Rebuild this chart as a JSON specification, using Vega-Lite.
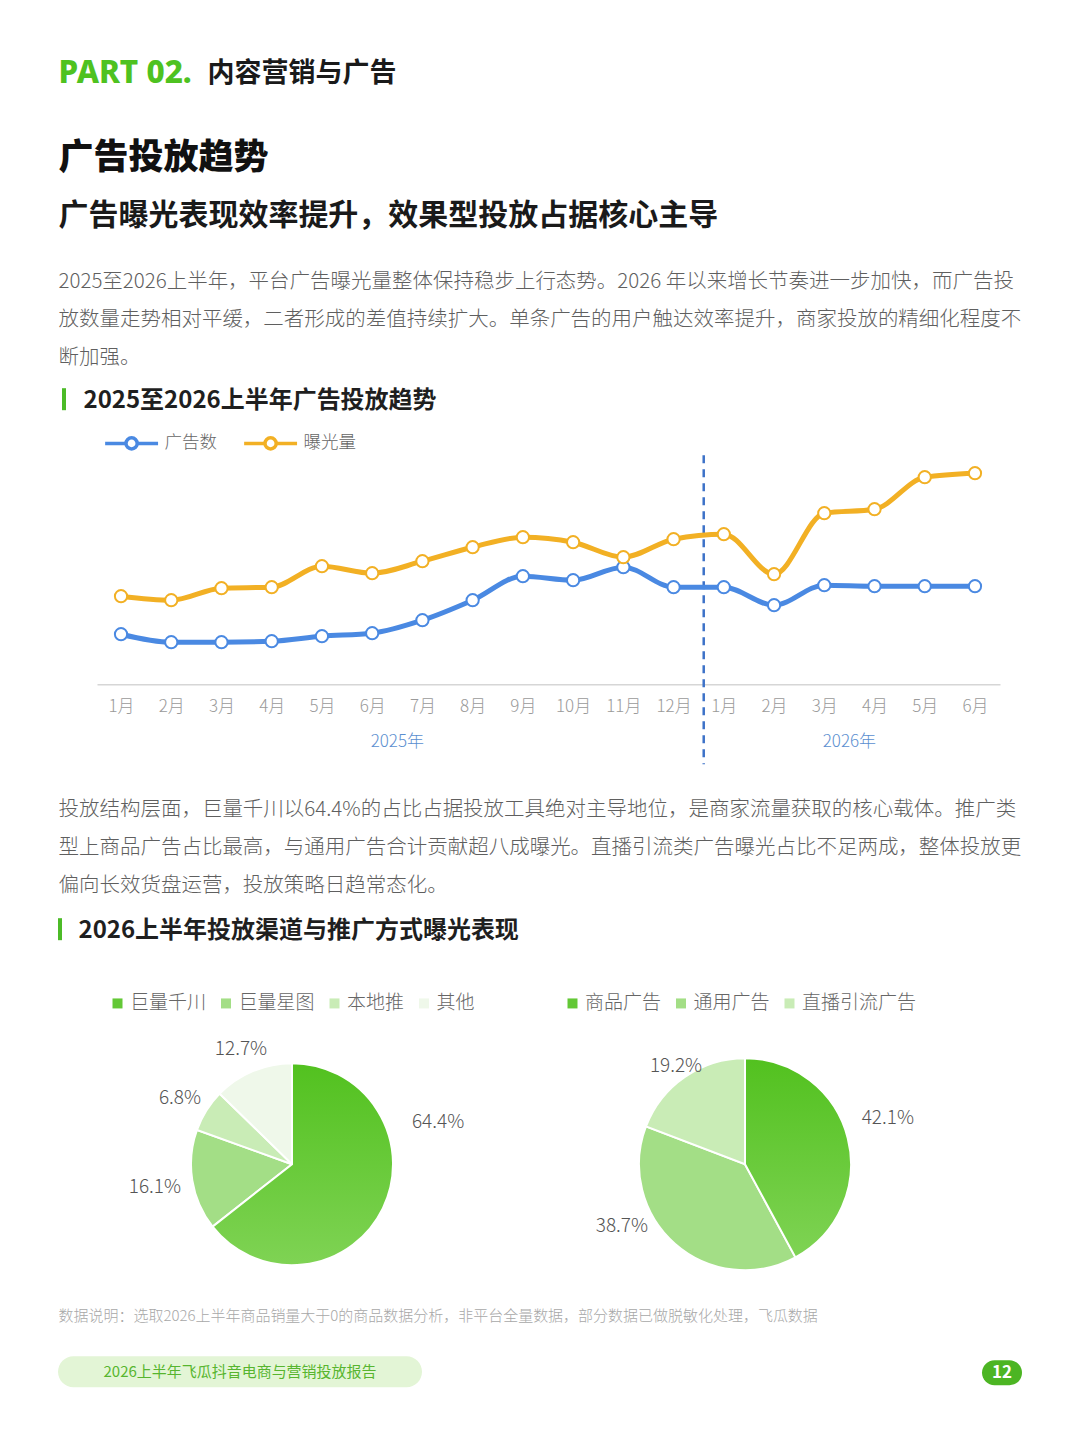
{
  "$schema": "https://vega.github.io/schema/vega-lite/v6.json",
  "description": "广告投放趋势 page: line chart of ad count and exposure, plus two share pies",
  "background": "white",
  "padding": {"left": 58, "top": 57.2, "right": 58, "bottom": 40},
  "spacing": 0,
  "config": {
    "view": {"stroke": null},
    "font": "Noto Sans CJK SC",
    "concat": {"spacing": 0}
  },
  "resolve": {"scale": {"color": "independent", "theta": "independent"}, "legend": {"color": "independent"}},
  "vconcat": [
    {
      "hconcat": [
        {
          "width": 1, "height": 1,
          "data": {"values": [{"t": "PART 02."}]},
          "mark": {"type": "text", "align": "left", "baseline": "middle", "font": "Noto Sans", "fontSize": 31.5, "fontWeight": 800, "color": "#4ec220"},
          "encoding": {"text": {"field": "t", "type": "nominal"}}
        },
        {
          "width": 1, "height": 1,
          "data": {"values": [{"t": "内容营销与广告"}]},
          "mark": {"type": "text", "align": "left", "baseline": "middle", "fontSize": 27, "fontWeight": 700, "color": "#1a1a1a"},
          "encoding": {"text": {"field": "t", "type": "nominal"}}
        }
      ],
      "spacing": 15
    },
    {"width": 1, "height": 50.5, "data": {"values": [{}]}, "mark": {"type": "point", "opacity": 0, "size": 1}},
    {
      "width": 1, "height": 1,
      "data": {"values": [{"t": "广告投放趋势"}]},
      "mark": {"type": "text", "align": "left", "baseline": "middle", "fontSize": 35, "fontWeight": 900, "color": "#111111"},
      "encoding": {"text": {"field": "t", "type": "nominal"}}
    },
    {"width": 1, "height": 24, "data": {"values": [{}]}, "mark": {"type": "point", "opacity": 0, "size": 1}},
    {
      "width": 1, "height": 1,
      "data": {"values": [{"t": "广告曝光表现效率提升，效果型投放占据核心主导"}]},
      "mark": {"type": "text", "align": "left", "baseline": "middle", "fontSize": 30, "fontWeight": 700, "color": "#1a1a1a"},
      "encoding": {"text": {"field": "t", "type": "nominal"}}
    },
    {"width": 1, "height": 40, "data": {"values": [{}]}, "mark": {"type": "point", "opacity": 0, "size": 1}},
    {
      "width": 1, "height": 1,
      "data": {"values": [{"t": "2025至2026上半年，平台广告曝光量整体保持稳步上行态势。2026 年以来增长节奏进一步加快，而广告投\n放数量走势相对平缓，二者形成的差值持续扩大。单条广告的用户触达效率提升，商家投放的精细化程度不\n断加强。"}]},
      "mark": {"type": "text", "align": "left", "baseline": "top", "fontSize": 20.5, "fontWeight": 300, "color": "#5f5f5f", "lineBreak": "\n", "lineHeight": 38},
      "encoding": {"text": {"field": "t", "type": "nominal"}}
    },
    {"width": 1, "height": 19.9, "data": {"values": [{}]}, "mark": {"type": "point", "opacity": 0, "size": 1}},
    {
      "hconcat": [
        {
          "hconcat": [
            {"width": 1, "height": 1, "data": {"values": [{}]}, "mark": {"type": "point", "opacity": 0, "size": 1}},
            {"width": 4, "height": 22, "view": {"fill": "#4cbb27"}, "data": {"values": [{}]}, "mark": {"type": "point", "opacity": 0, "size": 1}}
          ],
          "spacing": 3
        },
        {
          "width": 1, "height": 26,
          "data": {"values": [{"t": "2025至2026上半年广告投放趋势"}]},
          "mark": {"type": "text", "align": "left", "baseline": "middle", "fontSize": 24, "fontWeight": 700, "color": "#1f1f1f"},
          "encoding": {"text": {"field": "t", "type": "nominal"}}
        }
      ],
      "spacing": 17
    },
    {"width": 1, "height": 13, "data": {"values": [{}]}, "mark": {"type": "point", "opacity": 0, "size": 1}},
    {
      "width": 942,
      "height": 229,
      "data": {
        "values": [
          {"i": 1, "series": "广告数", "v": 50}, {"i": 2, "series": "广告数", "v": 42},
          {"i": 3, "series": "广告数", "v": 42}, {"i": 4, "series": "广告数", "v": 43},
          {"i": 5, "series": "广告数", "v": 48}, {"i": 6, "series": "广告数", "v": 51},
          {"i": 7, "series": "广告数", "v": 64}, {"i": 8, "series": "广告数", "v": 84},
          {"i": 9, "series": "广告数", "v": 108}, {"i": 10, "series": "广告数", "v": 104},
          {"i": 11, "series": "广告数", "v": 117}, {"i": 12, "series": "广告数", "v": 97},
          {"i": 13, "series": "广告数", "v": 97}, {"i": 14, "series": "广告数", "v": 79},
          {"i": 15, "series": "广告数", "v": 99}, {"i": 16, "series": "广告数", "v": 98},
          {"i": 17, "series": "广告数", "v": 98}, {"i": 18, "series": "广告数", "v": 98},
          {"i": 1, "series": "曝光量", "v": 88}, {"i": 2, "series": "曝光量", "v": 84},
          {"i": 3, "series": "曝光量", "v": 96}, {"i": 4, "series": "曝光量", "v": 97},
          {"i": 5, "series": "曝光量", "v": 118}, {"i": 6, "series": "曝光量", "v": 111},
          {"i": 7, "series": "曝光量", "v": 123}, {"i": 8, "series": "曝光量", "v": 137},
          {"i": 9, "series": "曝光量", "v": 147}, {"i": 10, "series": "曝光量", "v": 142},
          {"i": 11, "series": "曝光量", "v": 127}, {"i": 12, "series": "曝光量", "v": 145},
          {"i": 13, "series": "曝光量", "v": 150}, {"i": 14, "series": "曝光量", "v": 110},
          {"i": 15, "series": "曝光量", "v": 171}, {"i": 16, "series": "曝光量", "v": 175},
          {"i": 17, "series": "曝光量", "v": 207}, {"i": 18, "series": "曝光量", "v": 211},
          {"i": 12.6, "note": "boundary"},
          {"i": 6.5, "year": "2025年"},
          {"i": 15.5, "year": "2026年"}
        ]
      },
      "encoding": {
        "x": {
          "field": "i", "type": "quantitative",
          "scale": {"domain": [0.522, 18.498], "range": [39, 942], "nice": false, "zero": false},
          "axis": {
            "title": null,
            "values": [1, 2, 3, 4, 5, 6, 7, 8, 9, 10, 11, 12, 13, 14, 15, 16, 17, 18],
            "labelExpr": "datum.value > 12 ? (datum.value - 12) + '月' : datum.value + '月'",
            "ticks": false, "tickSize": 0, "grid": false,
            "domainColor": "#d6d6d6", "domainWidth": 1.5,
            "labelFontSize": 17, "labelFontWeight": 300, "labelColor": "#9a9a9a",
            "labelPadding": 14, "labelFlush": false, "labelOverlap": false
          }
        }
      },
      "layer": [
        {
          "transform": [{"filter": "datum.note == 'boundary'"}],
          "mark": {"type": "rule", "strokeDash": [8, 6], "strokeWidth": 2.5, "color": "#3d72c8"},
          "encoding": {
            "y": {"datum": 229, "type": "quantitative", "scale": {"domain": [0, 229], "nice": false, "zero": false}, "axis": null},
            "y2": {"datum": -80}
          }
        },
        {
          "transform": [{"filter": "datum.series != null"}],
          "encoding": {
            "y": {"field": "v", "type": "quantitative", "axis": null},
            "color": {
              "field": "series", "type": "nominal",
              "scale": {"domain": ["广告数", "曝光量"], "range": ["#4a89e2", "#f2b024"]},
              "legend": {
                "title": null, "orient": "none", "legendX": 57.6, "legendY": -28, "direction": "horizontal",
                "symbolType": "M-1.89,0L-0.48,0 M0.48,0L1.89,0 M0.4,0A0.4,0.4,0,1,1,-0.4,0A0.4,0.4,0,1,1,0.4,0Z",
                "symbolSize": 784, "symbolStrokeWidth": 3.5, "symbolFillColor": "white",
                "labelFontSize": 17.5, "labelFontWeight": 300, "labelColor": "#666666", "labelOffset": 17, "columnPadding": 19
              }
            }
          },
          "layer": [
            {"mark": {"type": "line", "interpolate": "monotone", "strokeWidth": 5}},
            {"mark": {"type": "point", "filled": false, "fill": "white", "fillOpacity": 1, "opacity": 1, "size": 150, "strokeWidth": 2}}
          ]
        },
        {
          "transform": [{"filter": "datum.year != null"}],
          "mark": {"type": "text", "fontSize": 17, "fontWeight": 300, "align": "center", "baseline": "middle", "color": "#5b8fd0"},
          "encoding": {
            "y": {"datum": -58, "type": "quantitative"},
            "text": {"field": "year", "type": "nominal"}
          }
        }
      ]
    },
    {"width": 1, "height": 32.85, "data": {"values": [{}]}, "mark": {"type": "point", "opacity": 0, "size": 1}},
    {
      "width": 1, "height": 1,
      "data": {"values": [{"t": "投放结构层面，巨量千川以64.4%的占比占据投放工具绝对主导地位，是商家流量获取的核心载体。推广类\n型上商品广告占比最高，与通用广告合计贡献超八成曝光。直播引流类广告曝光占比不足两成，整体投放更\n偏向长效货盘运营，投放策略日趋常态化。"}]},
      "mark": {"type": "text", "align": "left", "baseline": "top", "fontSize": 20.5, "fontWeight": 300, "color": "#5f5f5f", "lineBreak": "\n", "lineHeight": 38},
      "encoding": {"text": {"field": "t", "type": "nominal"}}
    },
    {"width": 1, "height": 21.9, "data": {"values": [{}]}, "mark": {"type": "point", "opacity": 0, "size": 1}},
    {
      "hconcat": [
        {"width": 4, "height": 22, "view": {"fill": "#4cbb27"}, "data": {"values": [{}]}, "mark": {"type": "point", "opacity": 0, "size": 1}},
        {
          "width": 1, "height": 26,
          "data": {"values": [{"t": "2026上半年投放渠道与推广方式曝光表现"}]},
          "mark": {"type": "text", "align": "left", "baseline": "middle", "fontSize": 24, "fontWeight": 700, "color": "#1f1f1f"},
          "encoding": {"text": {"field": "t", "type": "nominal"}}
        }
      ],
      "spacing": 16
    },
    {"width": 1, "height": 48.5, "data": {"values": [{}]}, "mark": {"type": "point", "opacity": 0, "size": 1}},
    {
      "resolve": {"scale": {"color": "independent", "theta": "independent"}, "legend": {"color": "independent"}},
      "hconcat": [
        {
          "width": 468,
          "height": 230,
          "data": {
            "values": [
              {"k": 1, "channel": "巨量千川", "share": 64.4, "label": "64.4%"},
              {"k": 2, "channel": "巨量星图", "share": 16.1, "label": "16.1%"},
              {"k": 3, "channel": "本地推", "share": 6.8, "label": "6.8%"},
              {"k": 4, "channel": "其他", "share": 12.7, "label": "12.7%"}
            ]
          },
          "transform": [{"stack": "share", "groupby": [], "sort": [{"field": "k", "order": "ascending"}], "as": ["s0", "s1"]}],
          "encoding": {
            "theta": {"field": "s0", "type": "quantitative", "stack": null, "scale": {"domain": [0, 100]}}
          },
          "layer": [
            {
              "mark": {"type": "arc", "radius": 101, "stroke": "white", "strokeWidth": 2},
              "encoding": {
                "theta2": {"field": "s1"},
                "color": {
                  "field": "channel", "type": "nominal",
                  "scale": {"domain": ["巨量千川", "巨量星图", "本地推", "其他"], "range": ["#63c836", "#a3de86", "#c9ecb6", "#eff8ea"]},
                  "legend": {
                    "title": null, "orient": "none", "legendX": 50, "legendY": -55.5, "direction": "horizontal",
                    "symbolType": "square", "symbolSize": 100, "symbolStrokeWidth": 0,
                    "labelFontSize": 19, "labelFontWeight": 300, "labelColor": "#666666", "labelOffset": 3, "columnPadding": 9.5
                  }
                }
              }
            },
            {
              "transform": [{"filter": "datum.k == 1"}],
              "mark": {
                "type": "arc", "radius": 101, "stroke": "white", "strokeWidth": 2,
                "fill": {"gradient": "linear", "x1": 0, "y1": 0, "x2": 0, "y2": 1, "stops": [{"offset": 0, "color": "#52c11f"}, {"offset": 1, "color": "#7fd354"}]}
              },
              "encoding": {"theta2": {"field": "s1"}}
            },
            {
              "transform": [{"filter": "datum.k == 1"}],
              "mark": {"type": "text", "radius": 152, "thetaOffset": 1.29, "fontSize": 19, "fontWeight": 300, "color": "#555555"},
              "encoding": {"text": {"field": "label", "type": "nominal"}}
            },
            {
              "transform": [{"filter": "datum.k == 2"}],
              "mark": {"type": "text", "radius": 139, "thetaOffset": 0.5, "fontSize": 19, "fontWeight": 300, "color": "#555555"},
              "encoding": {"text": {"field": "label", "type": "nominal"}}
            },
            {
              "transform": [{"filter": "datum.k == 3"}],
              "mark": {"type": "text", "radius": 130, "thetaOffset": 0.187, "fontSize": 19, "fontWeight": 300, "color": "#555555"},
              "encoding": {"text": {"field": "label", "type": "nominal"}}
            },
            {
              "transform": [{"filter": "datum.k == 4"}],
              "mark": {"type": "text", "radius": 126, "thetaOffset": 0.381, "fontSize": 19, "fontWeight": 300, "color": "#555555"},
              "encoding": {"text": {"field": "label", "type": "nominal"}}
            }
          ]
        },
        {
          "width": 438,
          "height": 230,
          "data": {
            "values": [
              {"k": 1, "format": "商品广告", "share": 42.1, "label": "42.1%"},
              {"k": 2, "format": "通用广告", "share": 38.7, "label": "38.7%"},
              {"k": 3, "format": "直播引流广告", "share": 19.2, "label": "19.2%"}
            ]
          },
          "transform": [{"stack": "share", "groupby": [], "sort": [{"field": "k", "order": "ascending"}], "as": ["s0", "s1"]}],
          "encoding": {
            "theta": {"field": "s0", "type": "quantitative", "stack": null, "scale": {"domain": [0, 100]}}
          },
          "layer": [
            {
              "mark": {"type": "arc", "radius": 106, "stroke": "white", "strokeWidth": 2},
              "encoding": {
                "theta2": {"field": "s1"},
                "color": {
                  "field": "format", "type": "nominal",
                  "scale": {"domain": ["商品广告", "通用广告", "直播引流广告"], "range": ["#63c836", "#a3de86", "#c9ecb6"]},
                  "legend": {
                    "title": null, "orient": "none", "legendX": 37, "legendY": -55.5, "direction": "horizontal",
                    "symbolType": "square", "symbolSize": 100, "symbolStrokeWidth": 0,
                    "labelFontSize": 19, "labelFontWeight": 300, "labelColor": "#666666", "labelOffset": 3, "columnPadding": 9.5
                  }
                }
              }
            },
            {
              "transform": [{"filter": "datum.k == 1"}],
              "mark": {
                "type": "arc", "radius": 106, "stroke": "white", "strokeWidth": 2,
                "fill": {"gradient": "linear", "x1": 0, "y1": 0, "x2": 0, "y2": 1, "stops": [{"offset": 0, "color": "#52c11f"}, {"offset": 1, "color": "#7fd354"}]}
              },
              "encoding": {"theta2": {"field": "s1"}}
            },
            {
              "transform": [{"filter": "datum.k == 1"}],
              "mark": {"type": "text", "radius": 150, "thetaOffset": 1.26, "fontSize": 19, "fontWeight": 300, "color": "#555555"},
              "encoding": {"text": {"field": "label", "type": "nominal"}}
            },
            {
              "transform": [{"filter": "datum.k == 2"}],
              "mark": {"type": "text", "radius": 138, "thetaOffset": 1.599, "fontSize": 19, "fontWeight": 300, "color": "#555555"},
              "encoding": {"text": {"field": "label", "type": "nominal"}}
            },
            {
              "transform": [{"filter": "datum.k == 3"}],
              "mark": {"type": "text", "radius": 120, "thetaOffset": 0.594, "fontSize": 19, "fontWeight": 300, "color": "#555555"},
              "encoding": {"text": {"field": "label", "type": "nominal"}}
            }
          ]
        }
      ],
      "spacing": 0
    },
    {"width": 1, "height": 28.7, "data": {"values": [{}]}, "mark": {"type": "point", "opacity": 0, "size": 1}},
    {
      "width": 1, "height": 1,
      "data": {"values": [{"t": "数据说明：选取2026上半年商品销量大于0的商品数据分析，非平台全量数据，部分数据已做脱敏化处理，飞瓜数据"}]},
      "mark": {"type": "text", "align": "left", "baseline": "middle", "fontSize": 15, "fontWeight": 300, "color": "#a8a8a8"},
      "encoding": {"text": {"field": "t", "type": "nominal"}}
    },
    {"width": 1, "height": 32, "data": {"values": [{}]}, "mark": {"type": "point", "opacity": 0, "size": 1}},
    {
      "hconcat": [
        {
          "width": 364, "height": 31,
          "view": {"fill": "#e3f5d6", "cornerRadius": 15.5},
          "data": {"values": [{"t": "2026上半年飞瓜抖音电商与营销投放报告"}]},
          "mark": {"type": "text", "align": "center", "baseline": "middle", "fontSize": 15, "color": "#57b52f"},
          "encoding": {"text": {"field": "t", "type": "nominal"}}
        },
        {
          "vconcat": [
            {"width": 1, "height": 2, "data": {"values": [{}]}, "mark": {"type": "point", "opacity": 0, "size": 1}},
            {
              "width": 40, "height": 25,
              "view": {"fill": "#4cb523", "cornerRadius": 12.5},
              "data": {"values": [{"t": "12"}]},
              "mark": {"type": "text", "align": "center", "baseline": "middle", "fontSize": 17, "fontWeight": 700, "color": "white"},
              "encoding": {"text": {"field": "t", "type": "nominal"}}
            }
          ],
          "spacing": 2
        }
      ],
      "spacing": 560
    }
  ]
}
